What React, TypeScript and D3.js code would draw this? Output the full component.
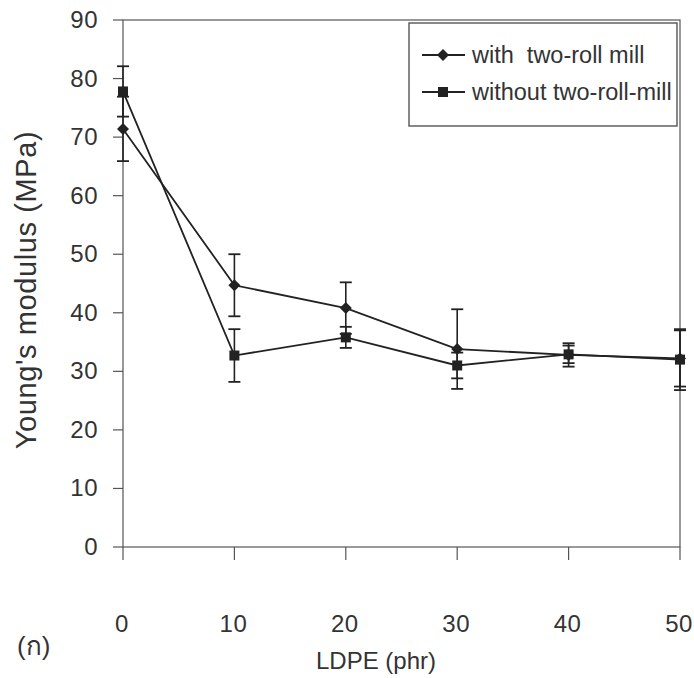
import React, { useEffect, useRef } from 'react';
import * as d3 from 'd3';

// LDPE content (phr)
const ldpe = [0, 10, 20, 30, 40, 50];

// Young's modulus (MPa)
const withMill = [71.4, 44.7, 40.8, 33.8, 32.8, 32.2];
const withMillErr = [5.5, 5.3, 4.4, 6.8, 2.0, 4.8];
const withoutMill = [77.8, 32.7, 35.8, 31.0, 32.9, 32.0];
const withoutMillErr = [4.3, 4.5, 1.8, 2.2, 1.5, 5.2];

const yTicks = [0, 10, 20, 30, 40, 50, 60, 70, 80, 90];
const xTicks = [0, 10, 20, 30, 40, 50];

const seriesNames = ['with  two-roll mill', 'without two-roll-mill'];

const W = 694;
const H = 678;
const margin = { top: 20, right: 14, bottom: 131, left: 123 };
const font = 'Liberation Sans, Arial, Helvetica, sans-serif';
const ink = '#222';
const textInk = '#333';

const diamond = (cx: number, cy: number, r: number) =>
  `M${cx},${cy - r}L${cx + r},${cy}L${cx},${cy + r}L${cx - r},${cy}Z`;

export default function App() {
  const ref = useRef<SVGSVGElement | null>(null);

  useEffect(() => {
    const svg = d3.select(ref.current);
    svg.selectAll('*').remove();

    const x = d3.scaleLinear().domain([0, 50]).range([margin.left, W - margin.right]);
    const y = d3.scaleLinear().domain([0, 90]).range([H - margin.bottom, margin.top]);

    const x0 = x(0), x1 = x(50), y0 = y(0), y1 = y(90);

    // frame
    svg.append('rect')
      .attr('x', x0).attr('y', y1)
      .attr('width', x1 - x0).attr('height', y0 - y1)
      .attr('fill', 'none').attr('stroke', '#555').attr('stroke-width', 1.2);

    // y ticks + labels
    const yg = svg.append('g');
    yg.selectAll('line').data(yTicks).enter().append('line')
      .attr('x1', x0 - 10).attr('x2', x0)
      .attr('y1', (d) => y(d)).attr('y2', (d) => y(d))
      .attr('stroke', '#555').attr('stroke-width', 1.2);
    yg.selectAll('text').data(yTicks).enter().append('text')
      .attr('x', x0 - 25).attr('y', (d) => y(d) + 8)
      .attr('text-anchor', 'end')
      .attr('font-family', font).attr('font-size', 24).attr('fill', textInk)
      .attr('letter-spacing', 0.5)
      .text((d) => d);

    // x ticks + labels
    const xg = svg.append('g');
    xg.selectAll('line').data(xTicks).enter().append('line')
      .attr('x1', (d) => x(d)).attr('x2', (d) => x(d))
      .attr('y1', y0).attr('y2', y0 + 13)
      .attr('stroke', '#555').attr('stroke-width', 1.2);
    xg.selectAll('text').data(xTicks).enter().append('text')
      .attr('x', (d) => x(d) - 1).attr('y', 632)
      .attr('text-anchor', 'middle')
      .attr('font-family', font).attr('font-size', 24).attr('fill', textInk)
      .attr('letter-spacing', 0.5)
      .text((d) => d);

    // axis titles
    svg.append('text')
      .attr('transform', `translate(36,290) rotate(-90)`)
      .attr('text-anchor', 'middle')
      .attr('font-family', font).attr('font-size', 29).attr('fill', textInk)
      .attr('letter-spacing', 0.6)
      .text("Young's modulus (MPa)");
    svg.append('text')
      .attr('x', 376).attr('y', 669)
      .attr('text-anchor', 'middle')
      .attr('font-family', font).attr('font-size', 24).attr('fill', textInk)
      .text('LDPE (phr)');
    svg.append('text')
      .attr('x', 17).attr('y', 655)
      .attr('font-family', font).attr('font-size', 26).attr('fill', textInk)
      .text('(ก)');

    const series = [
      { vals: withMill, err: withMillErr, shape: 'diamond' },
      { vals: withoutMill, err: withoutMillErr, shape: 'square' },
    ];

    const line = d3.line<number>()
      .x((_, i) => x(ldpe[i]))
      .y((d) => y(d));

    series.forEach((s) => {
      const g = svg.append('g');
      // error bars
      ldpe.forEach((v, i) => {
        const cx = x(v);
        const hi = y(s.vals[i] + s.err[i]);
        const lo = y(s.vals[i] - s.err[i]);
        g.append('line').attr('x1', cx).attr('x2', cx).attr('y1', hi).attr('y2', lo)
          .attr('stroke', ink).attr('stroke-width', 1.6);
        [hi, lo].forEach((yy) => {
          g.append('line').attr('x1', cx - 6).attr('x2', cx + 6).attr('y1', yy).attr('y2', yy)
            .attr('stroke', ink).attr('stroke-width', 1.8);
        });
      });
      g.append('path').datum(s.vals).attr('d', line)
        .attr('fill', 'none').attr('stroke', ink).attr('stroke-width', 1.8);
      s.vals.forEach((v, i) => {
        const cx = x(ldpe[i]);
        const cy = y(v);
        if (s.shape === 'diamond') {
          g.append('path').attr('d', diamond(cx, cy, 6)).attr('fill', ink);
        } else {
          g.append('rect').attr('x', cx - 5).attr('y', cy - 5)
            .attr('width', 10).attr('height', 10).attr('fill', ink);
        }
      });
    });

    // legend
    const lg = svg.append('g');
    lg.append('rect')
      .attr('x', 409).attr('y', 23).attr('width', 268).attr('height', 103)
      .attr('fill', '#fff').attr('stroke', '#555').attr('stroke-width', 1.4);
    seriesNames.forEach((name, i) => {
      const ly = 55 + i * 37;
      lg.append('line').attr('x1', 422).attr('x2', 465).attr('y1', ly).attr('y2', ly)
        .attr('stroke', ink).attr('stroke-width', 1.8);
      if (i === 0) {
        lg.append('path').attr('d', diamond(443, ly, 6)).attr('fill', ink);
      } else {
        lg.append('rect').attr('x', 438).attr('y', ly - 5).attr('width', 10).attr('height', 10).attr('fill', ink);
      }
      lg.append('text')
        .attr('x', 472).attr('y', ly + 8)
        .attr('font-family', font).attr('font-size', 23.5).attr('fill', textInk)
        .attr('xml:space', 'preserve')
        .style('white-space', 'pre')
        .text(name);
    });
  }, []);

  return (
    <svg
      ref={ref}
      width={W}
      height={H}
      style={{ position: 'absolute', left: 0, top: 0, background: '#fff' }}
    />
  );
}
